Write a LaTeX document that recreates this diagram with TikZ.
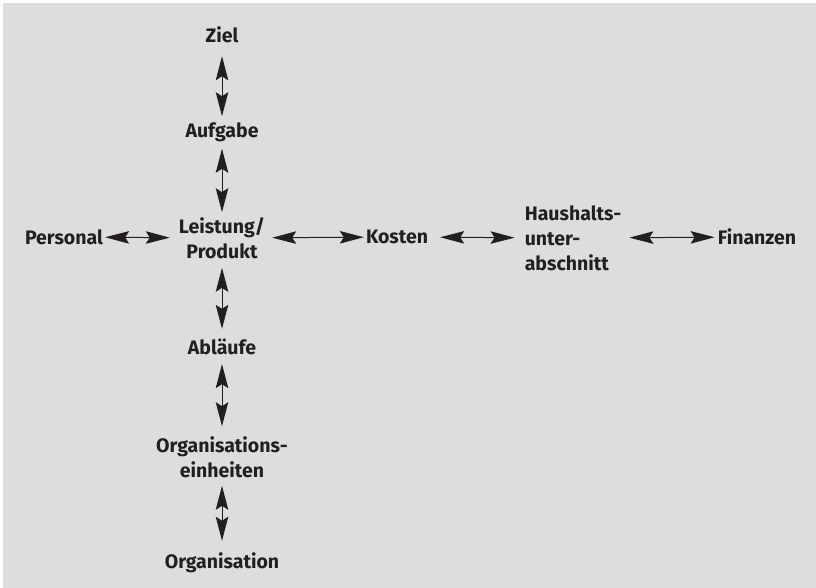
\documentclass[tikz,border=0pt]{standalone}
\usepackage{fontspec}
\setmainfont{Fira Sans}
\usetikzlibrary{arrows.meta}
\definecolor{bggray}{HTML}{DCDDDF}
\definecolor{ink}{HTML}{231F20}
\begin{document}
\begin{tikzpicture}
  [x=1pt,y=-1pt,
   every node/.style={inner sep=0pt,align=center,text=ink,
     font=\bfseries\fontsize{19.5}{25}\selectfont},
   dbl/.style={{Stealth[length=24pt,width=12.5pt,inset=4pt]}-{Stealth[length=24pt,width=12.5pt,inset=4pt]},
     draw=ink,fill=ink,line width=1pt}]
  \useasboundingbox (0,0) rectangle (816,588);
  \fill[bggray] (3,3) rectangle (816,588);

  \node (ziel) at (222,35) {Ziel};
  \node (aufg) at (222,132) {Aufgabe};
  \node (leist) at (222,238) {Leistung/\\Produkt};
  \node (pers) at (64,237) {Personal};
  \node (kost) at (397,237) {Kosten};
  \node (haus)[align=left] at (573,238) {Haushalts-\\unter-\\abschnitt};
  \node (fin) at (757,237) {Finanzen};
  \node (abl) at (222,347) {Abläufe};
  \node (orgeh) at (222,457) {Organisations-\\einheiten};
  \node (org) at (222,563) {Organisation};

 \foreach \from/\to/\sa/\sb in {ziel/aufg/13/6,aufg/leist/7/5,leist/abl/9/10,abl/orgeh/9/10,orgeh/org/8/12,
   pers/leist/2/9,leist/kost/7/2,kost/haus/12/10,haus/fin/8/3}
    \draw[dbl,shorten <=\sa pt,shorten >=\sb pt] (\from) -- (\to);

\end{tikzpicture}
\end{document}
